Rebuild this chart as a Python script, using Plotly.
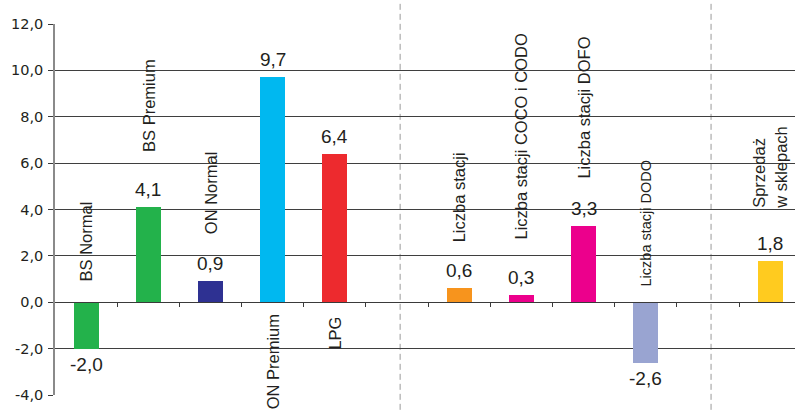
import plotly.graph_objects as go

# Categories (blank slots separate the three groups)
categories = ["BS Normal", "BS Premium", "ON Normal", "ON Premium", "LPG", "",
              "Liczba stacji", "Liczba stacji COCO i CODO", "Liczba stacji DOFO",
              "Liczba stacji DODO", "", "Sprzedaż<br>w sklepach"]
values = [-2.0, 4.1, 0.9, 9.7, 6.4, None, 0.6, 0.3, 3.3, -2.6, None, 1.8]
colors = ["#23B24B", "#23B24B", "#2E3192", "#00B8F0", "#ED2A2E", "#FFFFFF",
          "#F7941D", "#EC008C", "#EC008C", "#99A4D1", "#FFFFFF", "#FFCB1F"]

y_ticks = [-4, -2, 0, 2, 4, 6, 8, 10, 12]
y_tick_text = ["-4,0", "-2,0", "0,0", "2,0", "4,0", "6,0", "8,0", "10,0", "12,0"]

# Where each rotated category name sits (y in axis units, anchor side)
label_pos = [(0.86, "bottom"), (6.43, "bottom"), (2.89, "bottom"), (-0.47, "top"),
             (-0.56, "top"), None, (2.55, "bottom"), (2.68, "bottom"),
             (5.27, "bottom"), (0.65, "bottom"), None, (3.97, "bottom")]
label_size = [16.5, 16.5, 16.5, 16.5, 16.5, 0, 16.5, 16.5, 16.5, 14.5, 0, 16.5]

FONT = "Liberation Sans, Arial, sans-serif"
TXT = "#231F20"

x_idx = list(range(len(categories)))

fig = go.Figure()
fig.add_trace(go.Bar(
    x=x_idx, y=values, width=0.4,
    marker=dict(color=colors, line=dict(width=0)),
    hoverinfo="skip", showlegend=False,
))

annotations = []
# value labels
for i, v in enumerate(values):
    if v is None:
        continue
    txt = f"{v:.1f}".replace(".", ",")
    annotations.append(dict(
        x=i, y=v, xref="x", yref="y", text=txt, showarrow=False,
        yanchor="bottom" if v >= 0 else "top",
        yshift=5 if v >= 0 else -3,
        font=dict(family=FONT, size=19, color=TXT),
    ))
# rotated category names
for i, name in enumerate(categories):
    if not name or label_pos[i] is None:
        continue
    y, anchor = label_pos[i]
    annotations.append(dict(
        x=i, y=y, xref="x", yref="y", text=name, showarrow=False,
        textangle=-90, yanchor=anchor, xanchor="center", align="left",
        borderpad=0,
        font=dict(family=FONT, size=label_size[i], color=TXT),
    ))

# dashed group separators at the blank slots
shapes = []
for i, name in enumerate(categories):
    if name == "":
        shapes.append(dict(
            type="line", xref="x", yref="paper", x0=i + 0.05, x1=i + 0.05,
            y0=-0.04, y1=1.06,
            line=dict(color="#9A9A9A", width=1, dash="6px,4px"), layer="below",
        ))

fig.update_layout(
    width=795, height=412,
    margin=dict(l=55, r=0, t=24, b=17),
    paper_bgcolor="white", plot_bgcolor="white",
    bargap=0, annotations=annotations, shapes=shapes,
    xaxis=dict(
        range=[-0.5, 11.4], anchor="free", position=0.25,
        showgrid=False, zeroline=False, showline=True,
        linecolor="#3A3A3A", linewidth=1,
        tickmode="array", tickvals=[k - 0.5 for k in range(1, 12)],
        ticks="outside", ticklen=4, tickcolor="#3A3A3A", tickwidth=1,
        showticklabels=False,
    ),
    yaxis=dict(
        range=[-4, 12], tickmode="array", tickvals=y_ticks, ticktext=y_tick_text,
        showgrid=True, gridcolor="#3F3F3F", gridwidth=1, zeroline=False,
        showline=True, linecolor="#8A8A8A", linewidth=1.5,
        ticks="outside", ticklen=5, tickcolor="#3A3A3A", tickwidth=1,
        ticklabelstandoff=2,
        tickfont=dict(family="DejaVu Sans, sans-serif", size=14.5, color=TXT),
    ),
)

fig.write_html("out.html")
